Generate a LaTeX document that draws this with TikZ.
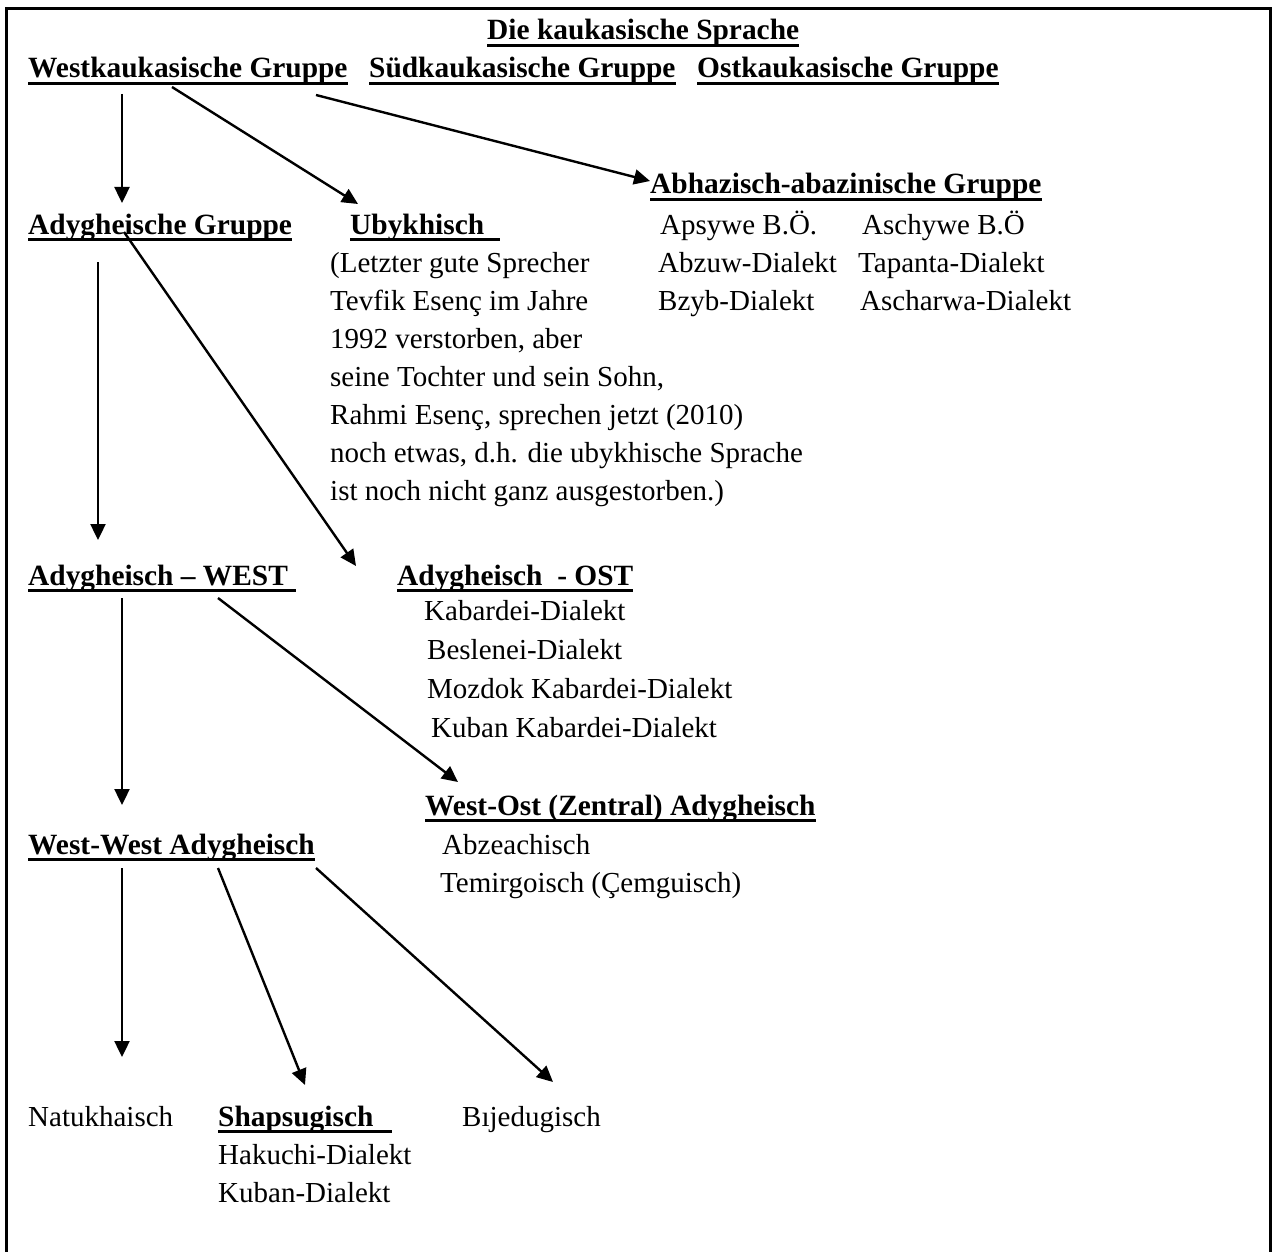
\documentclass[tikz,border=0pt]{standalone}
\usepackage{fontspec}
\setmainfont{Liberation Serif}
\usepackage{tikz}
\usetikzlibrary{arrows.meta}

\begin{document}
\begin{tikzpicture}[x=1pt, y=-1pt]
	\tikzstyle{txt} = [anchor=base west, inner sep=0pt, font=\fontsize{29}{38}\selectfont]
	\tikzstyle{lst} = [txt, align=left]
	\tikzstyle{hd} = [txt, font=\fontsize{29.4}{38}\selectfont\bfseries, append after command={([yshift=-5.5pt]\tikzlastnode.base west) edge[line width=2.6pt] ([yshift=-5.5pt]\tikzlastnode.base east)}]
	\tikzstyle{arrow} = [-{Triangle[length=16pt, width=15pt]}, line width=2.4pt]

	\useasboundingbox (0,0) rectangle (1274,1252);
	\draw [line width=3pt] (6.5,1252) -- (6.5,8.5) -- (1270,8.5) -- (1270,1252);

	\node (title) [hd] at (487,40) {Die kaukasische Sprache};
	\node (west) [hd] at (28,78) {Westkaukasische Gruppe};
	\node (sued) [hd] at (369,78) {Südkaukasische Gruppe};
	\node (ost) [hd] at (697,78) {Ostkaukasische Gruppe};

	% lists: base = last line
	\node (abh) [hd] at (650,194) {Abhazisch-abazinische Gruppe};
	\node (abh_a) [lst] at (658,310) {\hspace*{2pt}Apsywe B.Ö.\\Abzuw-Dialekt\\Bzyb-Dialekt};
	\node (abh_b) [lst] at (858,310) {\hspace*{4pt}Aschywe B.Ö\\Tapanta-Dialekt\\\hspace*{2pt}Ascharwa-Dialekt};

	\node (adyg) [hd] at (28,234) {Adygheische Gruppe};
	\node (ubyk) [hd] at (350,234) {Ubykhisch\kern16pt};
	\node (ubyk_txt) [lst] at (330,500) {(Letzter gute Sprecher\\Tevfik Esenç im Jahre\\1992 verstorben, aber\\seine Tochter und sein Sohn,\\Rahmi Esenç, sprechen jetzt (2010)\\noch etwas, d.h. die ubykhische Sprache\\ist noch nicht ganz ausgestorben.)};

	\node (adyg_west) [hd] at (28,585) {Adygheisch – WEST\kern8pt};
	\node (adyg_ost) [hd] at (397,585) {Adygheisch~ - OST};
	\node (ost_list) [lst, font=\fontsize{29}{38.7}\selectfont] at (424,737) {Kabardei-Dialekt\\\hspace*{3pt}Beslenei-Dialekt\\\hspace*{3pt}Mozdok Kabardei-Dialekt\\\hspace*{7pt}Kuban Kabardei-Dialekt};

	\node (westost) [hd] at (425,815) {West-Ost (Zentral) Adygheisch};
	\node (westost_list) [lst] at (440,892) {\hspace*{2pt}Abzeachisch\\Temirgoisch (Çemguisch)};
	\node (westwest) [hd] at (28,854) {West-West Adygheisch};

	\node (natu) [txt] at (28,1126) {Natukhaisch};
	\node (shap) [hd] at (218,1126) {Shapsugisch\kern18pt};
	\node (shap_list) [lst] at (218,1202) {Hakuchi-Dialekt\\Kuban-Dialekt};
	\node (bije) [txt] at (462,1126) {Bıjedugisch};

	\draw [arrow] ([shift={(94,16)}]west.base west) -- ([shift={(94,-31)}]adyg.base west);
	\draw [arrow] ([shift={(144,9)}]west.base west) -- ([shift={(8,-30)}]ubyk.base west);
	\draw [arrow] ([shift={(288,17)}]west.base west) -- ([shift={(0,-13)}]abh.base west);
	\draw [arrow] ([shift={(70,28)}]adyg.base west) -- ([shift={(70,-45)}]adyg_west.base west);
	\draw [arrow] ([shift={(96,-2)}]adyg.base west) -- ([shift={(-41,-19)}]adyg_ost.base west);
	\draw [arrow] ([shift={(94,13)}]adyg_west.base west) -- ([shift={(94,-49)}]westwest.base west);
	\draw [arrow] ([shift={(190,13)}]adyg_west.base west) -- ([shift={(33,-33)}]westost.base west);
	\draw [arrow] ([shift={(94,14)}]westwest.base west) -- ([shift={(94,-69)}]natu.base west);
	\draw [arrow] ([shift={(190,14)}]westwest.base west) -- ([shift={(87,-41)}]shap.base west);
	\draw [arrow] ([shift={(288,14)}]westwest.base west) -- ([shift={(91,-44)}]bije.base west);
\end{tikzpicture}
\end{document}
